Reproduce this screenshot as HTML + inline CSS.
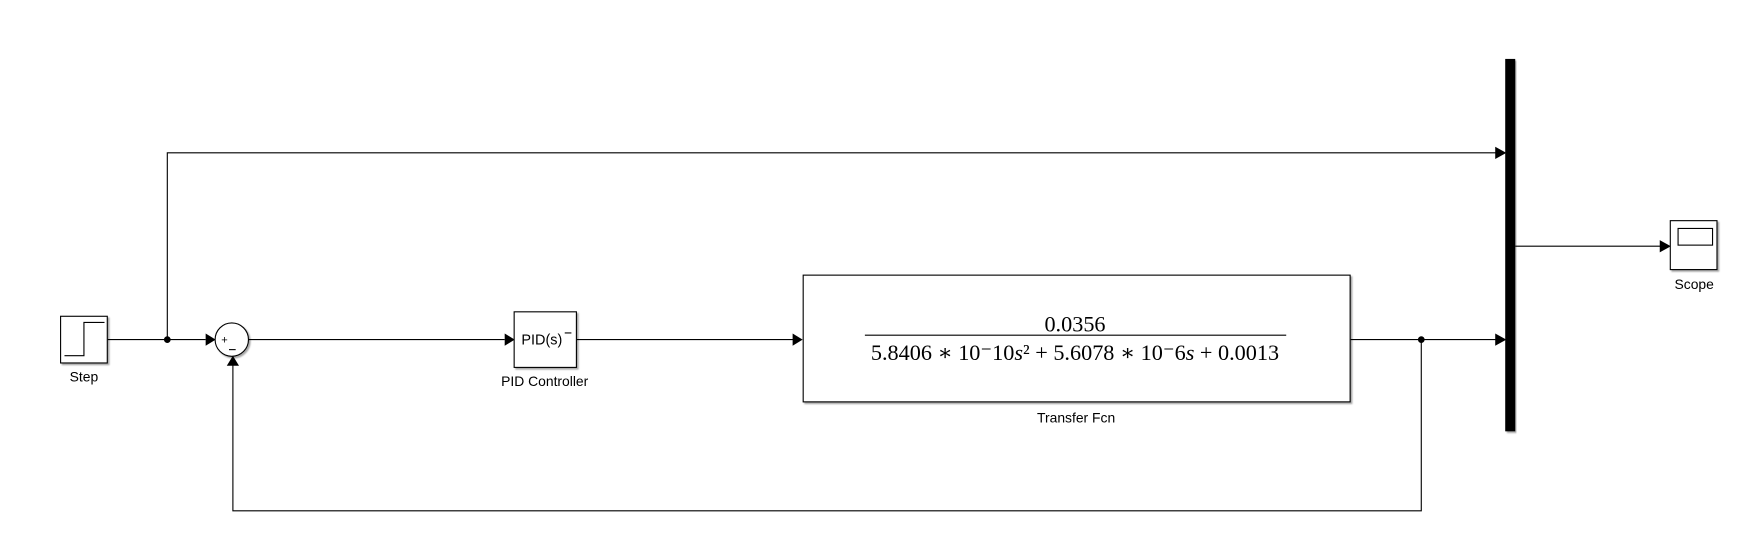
<!DOCTYPE html>
<html><head><style>
html,body{margin:0;padding:0;background:#fff;}
svg{display:block;}
.l{font-family:"Liberation Sans",sans-serif;font-size:12.5px;fill:#000;text-anchor:middle;}
.m{font-family:"Liberation Serif","DejaVu Serif",serif;font-size:20px;fill:#000;text-anchor:middle;}
</style></head><body>
<svg width="1742" height="556" viewBox="0 0 1567 500" preserveAspectRatio="xMinYMin meet" xmlns="http://www.w3.org/2000/svg">
<defs>
<filter id="sh" x="-5%" y="-5%" width="115%" height="115%"><feDropShadow dx="1.5" dy="1.5" stdDeviation="0.8" flood-color="#000" flood-opacity="0.35"/></filter>
</defs>
<g stroke="#000" stroke-width="1" fill="none">
<line x1="97" y1="305.5" x2="185" y2="305.5"/>
<polyline points="150.5,305.5 150.5,137.5 1346,137.5"/>
<line x1="223" y1="305.5" x2="454" y2="305.5"/>
<line x1="519" y1="305.5" x2="714" y2="305.5"/>
<line x1="1215" y1="305.5" x2="1346" y2="305.5"/>
<polyline points="1278.5,305.5 1278.5,459.5 209.5,459.5 209.5,328"/>
<line x1="1363" y1="221.5" x2="1494" y2="221.5"/>
</g>
<g fill="#000">
<circle cx="150.5" cy="305.5" r="3"/>
<circle cx="1278.5" cy="305.5" r="3"/>
<polygon points="185,300 194,305.5 185,311"/>
<polygon points="454,300 463,305.5 454,311"/>
<polygon points="713,300 722,305.5 713,311"/>
<polygon points="1345,132 1355,137.5 1345,143"/>
<polygon points="1345,300 1355,305.5 1345,311"/>
<polygon points="1493,216 1503,221.5 1493,227"/>
<polygon points="204,329 209.5,320 215,329"/>
</g>
<rect x="54.5" y="284.5" width="42" height="42" fill="#fff" stroke="#000" filter="url(#sh)"/>
<polyline points="58,320 75.5,320 75.5,290 94,290" fill="none" stroke="#000"/>
<text class="l" x="75.5" y="343">Step</text>
<circle cx="208.5" cy="305.5" r="15" fill="#fff" stroke="#000" filter="url(#sh)"/>
<text x="199" y="309" style="font-family:'Liberation Sans',sans-serif;font-size:10px">+</text>
<line x1="206" y1="314.5" x2="212" y2="314.5" stroke="#000"/>
<rect x="462.5" y="280.5" width="56" height="50" fill="#fff" stroke="#000" filter="url(#sh)"/>
<text x="469" y="310" style="font-family:'Liberation Sans',sans-serif;font-size:13px">PID(s)</text>
<line x1="508" y1="299.5" x2="514" y2="299.5" stroke="#000"/>
<text class="l" x="490" y="347">PID Controller</text>
<rect x="722.5" y="247.5" width="492" height="114" fill="#fff" stroke="#000" filter="url(#sh)"/>
<text class="m" x="967" y="298">0.0356</text>
<line x1="778" y1="301.5" x2="1157" y2="301.5" stroke="#000"/>
<text class="m" x="967" y="324">5.8406 ∗ 10⁻10<tspan font-style="italic">s</tspan>² + 5.6078 ∗ 10⁻6<tspan font-style="italic">s</tspan> + 0.0013</text>
<text class="l" x="968" y="380">Transfer Fcn</text>
<rect x="1354" y="53" width="9" height="335" fill="#000" filter="url(#sh)"/>
<rect x="1502.5" y="198.5" width="42" height="44" fill="#fff" stroke="#000" filter="url(#sh)"/>
<rect x="1509.5" y="205.5" width="31" height="15" fill="#fff" stroke="#000"/>
<text class="l" x="1524" y="260">Scope</text>
</svg>
</body></html>
